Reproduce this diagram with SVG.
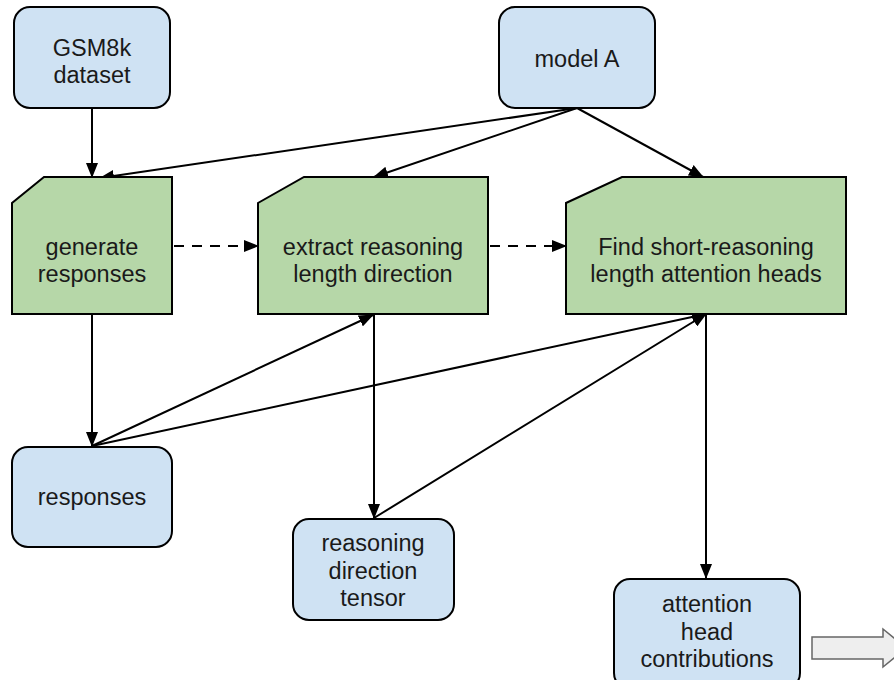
<svg xmlns="http://www.w3.org/2000/svg" width="894" height="680" viewBox="0 0 894 680">
  <defs>
    <style>
      .data { fill: #cfe2f3; stroke: #000; stroke-width: 2; }
      .step { fill: #b6d7a8; stroke: #000; stroke-width: 2; }
      .lbl { font-family: "Liberation Sans", Arial, sans-serif; font-size: 23.5px; fill: #1a1a1a; text-anchor: middle; }
      .edge { fill: none; stroke: #000; stroke-width: 2; marker-end: url(#head); }
      .dash { stroke-dasharray: 10 8; }
    </style>
    <marker id="head" viewBox="0 0 15 12" markerWidth="15" markerHeight="12" refX="14" refY="6" orient="auto" markerUnits="userSpaceOnUse">
      <path d="M0,0 L15,6 L0,12 z" fill="#000"/>
    </marker>
  </defs>
  <rect width="894" height="680" fill="#fff"/>

  <!-- connectors -->
  <g id="connectors">
    <line class="edge" x1="92" y1="108" x2="92" y2="177"/>
    <line class="edge" x1="577" y1="108" x2="100" y2="178"/>
    <line class="edge" x1="577" y1="108" x2="374" y2="177"/>
    <line class="edge" x1="577" y1="108" x2="703" y2="177"/>
    <line class="edge dash" x1="174" y1="246" x2="258" y2="246"/>
    <line class="edge dash" x1="490" y1="246" x2="566" y2="246"/>
    <line class="edge" x1="92" y1="314" x2="92" y2="446"/>
    <line class="edge" x1="92" y1="446" x2="373" y2="315"/>
    <line class="edge" x1="92" y1="446" x2="706" y2="314"/>
    <line class="edge" x1="374" y1="314" x2="374" y2="518"/>
    <line class="edge" x1="374" y1="518" x2="706" y2="314"/>
    <line class="edge" x1="706" y1="314" x2="706" y2="578"/>
  </g>

  <g id="gsm8k">
    <rect class="data" x="14" y="7" width="156" height="101" rx="16"/>
    <text class="lbl" x="92" y="56">GSM8k</text>
    <text class="lbl" x="92" y="83">dataset</text>
  </g>

  <g id="modelA">
    <rect class="data" x="499" y="7" width="156" height="101" rx="16"/>
    <text class="lbl" x="577" y="67">model A</text>
  </g>

  <g id="generate">
    <path class="step" d="M44,177 H172 V314 H12 V203 Z"/>
    <text class="lbl" x="92" y="255">generate</text>
    <text class="lbl" x="92" y="282">responses</text>
  </g>

  <g id="extract">
    <path class="step" d="M304,177 H488 V314 H258 V203 Z"/>
    <text class="lbl" x="373" y="255">extract reasoning</text>
    <text class="lbl" x="373" y="282">length direction</text>
  </g>

  <g id="findHeads">
    <path class="step" d="M622,177 H846 V314 H566 V203 Z"/>
    <text class="lbl" x="706" y="255">Find short-reasoning</text>
    <text class="lbl" x="706" y="282">length attention heads</text>
  </g>

  <g id="responses">
    <rect class="data" x="12" y="447" width="160" height="100" rx="16"/>
    <text class="lbl" x="92" y="505">responses</text>
  </g>

  <g id="direction">
    <rect class="data" x="293" y="519" width="161" height="101" rx="16"/>
    <text class="lbl" x="373" y="551">reasoning</text>
    <text class="lbl" x="373" y="579">direction</text>
    <text class="lbl" x="373" y="606">tensor</text>
  </g>

  <g id="contributions">
    <rect class="data" x="614" y="579" width="186" height="110" rx="16"/>
    <text class="lbl" x="707" y="612">attention</text>
    <text class="lbl" x="707" y="640">head</text>
    <text class="lbl" x="707" y="667">contributions</text>
  </g>

  <g id="nextArrow">
    <path d="M812,637 H883 V629 L906,648 L883,667 V659 H812 Z" fill="#eeeeee" stroke="#666" stroke-width="1.5"/>
  </g>
</svg>
